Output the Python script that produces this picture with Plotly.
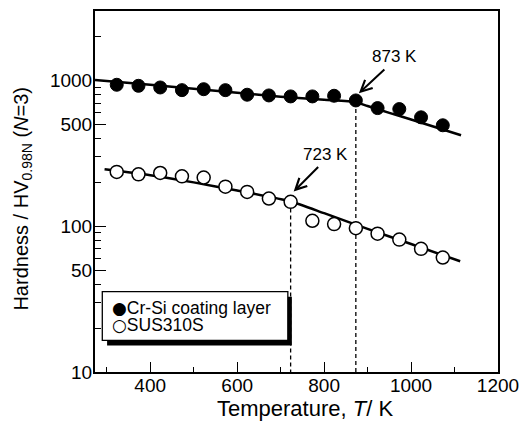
import plotly.graph_objects as go

# measured data (temperature in K, Vickers hardness)
temp = [323, 373, 423, 473, 523, 573, 623, 673, 723, 773, 823, 873, 923, 973, 1023, 1073]
hv_crsi = [935, 920, 896, 859, 872, 859, 799, 790, 778, 778, 786, 730, 647, 637, 559, 493]
hv_sus = [236, 227, 232, 220, 216, 187, 172, 155, 147, 109, 103.5, 97, 89, 81, 70, 61]

# fitted trend lines
fit_crsi_t = [273, 400, 500, 600, 700, 800, 873, 900, 950, 1000, 1115]
fit_crsi_hv = [1010, 934, 878, 825, 775, 738, 711, 668, 600, 540, 421]
fit_sus_t = [295, 400, 500, 600, 723, 800, 900, 1000, 1113]
fit_sus_hv = [246, 224, 200, 176, 148, 123, 96, 75.6, 57.5]

# transition temperatures
trans_t = [723, 873]
trans_hv = [148, 711]
trans_labels = ["723 K", "873 K"]

legend_names = ["Cr-Si coating layer", "SUS310S"]

FONT = "Liberation Sans, Arial, sans-serif"

fig = go.Figure()

fig.add_trace(go.Scatter(x=fit_crsi_t, y=fit_crsi_hv, mode="lines",
                         line=dict(color="black", width=2.5, shape="spline", smoothing=0.6), showlegend=False))
fig.add_trace(go.Scatter(x=fit_sus_t, y=fit_sus_hv, mode="lines",
                         line=dict(color="black", width=2.5, shape="spline", smoothing=0.6), showlegend=False))

for t, h in zip(trans_t, trans_hv):
    fig.add_trace(go.Scatter(x=[t, t], y=[h, 10], mode="lines",
                             line=dict(color="black", width=1.3, dash="4px,3px"), showlegend=False))

fig.add_trace(go.Scatter(x=temp, y=hv_crsi, mode="markers", name=legend_names[0], showlegend=False,
                         marker=dict(symbol="circle", size=13, color="black", line=dict(color="black", width=1))))
fig.add_trace(go.Scatter(x=temp, y=hv_sus, mode="markers", name=legend_names[1], showlegend=False,
                         marker=dict(symbol="circle", size=13, color="white", line=dict(color="black", width=1.5))))

# arrows pointing at transition points (y in log10 units)
fig.add_annotation(x=880, y=2.913, ax=27, ay=-25, axref="pixel", ayref="pixel", text="", showarrow=True,
                   arrowhead=5, arrowsize=1.1, arrowwidth=2, arrowcolor="black")
fig.add_annotation(x=730, y=2.238, ax=26, ay=-26, axref="pixel", ayref="pixel", text="", showarrow=True,
                   arrowhead=5, arrowsize=1.1, arrowwidth=2, arrowcolor="black")
fig.add_annotation(x=963, y=3.164, text=trans_labels[1], showarrow=False,
                   font=dict(size=17, family=FONT, color="black"))
fig.add_annotation(x=804, y=2.495, text=trans_labels[0], showarrow=False,
                   font=dict(size=17, family=FONT, color="black"))

# axis titles
fig.add_annotation(xref="paper", yref="paper", x=-0.179, y=0.48, xanchor="center", yanchor="middle",
                   textangle=-90, showarrow=False,
                   text="Hardness / HV<sub>0.98N</sub> (<i>N</i>=3)", font=dict(size=20, family=FONT, color="black"))
fig.add_annotation(xref="paper", yref="paper", x=0.5215, y=-0.1001, xanchor="center", yanchor="middle",
                   showarrow=False,
                   text="Temperature, <i>T</i>/ K", font=dict(size=22, family=FONT, color="black"))

# legend box with drop shadow
fig.add_shape(type="rect", xref="paper", yref="paper", x0=0.030, x1=0.4885, y0=0.0736, y1=0.2087,
              fillcolor="black", line=dict(width=0), layer="above")
fig.add_shape(type="rect", xref="paper", yref="paper", x0=0.0181, x1=0.4785, y0=0.0874, y1=0.2225,
              fillcolor="white", line=dict(color="black", width=1.3), layer="above")
dot = '<span style="font-family:DejaVu Sans;font-size:17px">{}</span>'
fig.add_annotation(xref="paper", yref="paper", x=0.0375, y=0.1770, xanchor="left", yanchor="middle",
                   showarrow=False, text=dot.format("\u25cf") + legend_names[0],
                   font=dict(size=17.5, family=FONT, color="black"))
fig.add_annotation(xref="paper", yref="paper", x=0.0375, y=0.1315, xanchor="left", yanchor="middle",
                   showarrow=False, text=dot.format("\u25cb") + legend_names[1],
                   font=dict(size=17.5, family=FONT, color="black"))

fig.update_xaxes(type="linear", range=[273, 1200], tickvals=[400, 600, 800, 1000, 1200],
                 ticks="inside", ticklen=10, tickwidth=1.3, tickcolor="black", ticklabelstandoff=-5,
                 minor=dict(tickvals=[300, 500, 700, 900, 1100], ticks="inside", ticklen=5,
                            tickwidth=1.3, tickcolor="black"),
                 showline=True, linecolor="black", linewidth=2, mirror=True, showgrid=False, zeroline=False,
                 tickfont=dict(size=19, family=FONT, color="black"))
fig.update_yaxes(type="log", range=[1, 3.477], tickvals=[10, 50, 100, 500, 1000],
                 ticks="inside", ticklen=11, tickwidth=1.3, tickcolor="black", ticklabelstandoff=-3,
                 minor=dict(tickvals=[20, 30, 40, 60, 70, 80, 90, 200, 300, 400, 600, 700, 800, 900, 2000],
                            ticks="inside", ticklen=6, tickwidth=1.3, tickcolor="black"),
                 showline=True, linecolor="black", linewidth=2, mirror=True, showgrid=False, zeroline=False,
                 tickfont=dict(size=19, family=FONT, color="black"))

# page body adds an 8px offset, so margins are shifted to keep the plot area in place
fig.update_layout(
    width=523, height=413,
    margin=dict(l=87, r=33.3, t=1, b=49.3),
    paper_bgcolor="white", plot_bgcolor="white",
    font=dict(family=FONT, color="black"),
    showlegend=False,
)

fig.write_html("out.html")
